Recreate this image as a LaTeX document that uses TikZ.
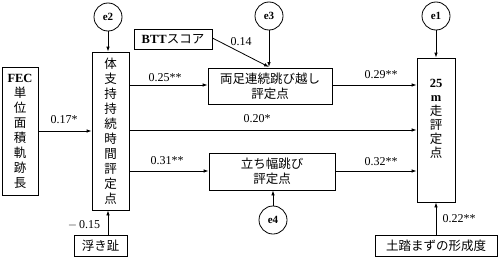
\documentclass[tikz,border=0pt]{standalone}
\usepackage{fontspec}
\setmainfont{Liberation Serif}
\newfontfamily\jp{Noto Sans CJK JP}
\usetikzlibrary{arrows.meta}

\newcommand{\lat}[1]{{\rmfamily\bfseries #1}}

\tikzset{
    box/.style={draw, line width=0.8pt, inner sep=0pt, align=center, font=\jp\fontsize{12.5}{15}\selectfont},
    err/.style={draw, circle, line width=0.8pt, minimum size=28pt, inner sep=0pt, font=\rmfamily\bfseries\fontsize{11}{13}\selectfont},
    coef/.style={font=\fontsize{12}{13}\selectfont},
    path/.style={-{Latex[length=5pt,width=3.5pt]}, line width=0.8pt}
}

\begin{document}
\begin{tikzpicture}[x=1pt, y=-1pt]
    \useasboundingbox (0,0) rectangle (500,257);

    % observed variables
    \node[box, minimum width=36pt, minimum height=128pt] (fec) at (20,131)
        {\lat{FEC}\\単\\位\\面\\積\\軌\\跡\\長};
    \node[box, minimum width=37pt, minimum height=158pt] (tai) at (110.5,131)
        {体\\支\\持\\持\\続\\時\\間\\評\\定\\点};
    \node[box, minimum width=78pt, minimum height=20pt] (btt) at (173,39.5)
        {\lat{BTT}スコア};
    \node[box, minimum width=124pt, minimum height=36pt] (ryo) at (270,86)
        {両足連続跳び越し\\評定点};
    \node[box, minimum width=126pt, minimum height=37pt] (tachi) at (272,171.5)
        {立ち幅跳び\\評定点};
    \node[box, minimum width=38pt, minimum height=144pt] (run) at (436,130) {};
    \node[align=center, inner sep=0pt, font=\jp\fontsize{12.5}{14}\selectfont] (runtxt) at (436,119)
        {\lat{25}\\\lat{m}\\走\\評\\定\\点};
    \node[box, minimum width=53pt, minimum height=21pt] (uki) at (100.5,245.5) {浮き趾};
    \node[box, minimum width=122pt, minimum height=21pt] (tsuchi) at (436,245.5) {土踏まずの形成度};

    % errors
    \node[err] (e2) at (108,17) {e2};
    \node[err] (e3) at (269,16) {e3};
    \node[err] (e1) at (436,16) {e1};
    \node[err] (e4) at (273,220) {e4};
    \coordinate (meet) at (269,67);

    % paths
    \draw[path] (fec.east |- 0,131) -- (tai.west |- 0,131);
    \draw[path] (tai.east |- 0,85) -- (ryo.west |- 0,85);
    \draw[path] (tai.east |- 0,130) -- (run.west |- 0,130);
    \draw[path] (tai.east |- 0,171) -- (tachi.west |- 0,171);
    \draw[path] (ryo.east |- 0,85) -- (run.west |- 0,85);
    \draw[path] (tachi.east |- 0,171) -- (run.west |- 0,171);
    \draw[path] (btt.east |- 0,38) -- (meet);
    \draw[path] (e3) -- (meet);
    \draw[path] (e2) -- (e2 |- tai.north);
    \draw[path] (e1) -- (run.north);
    \draw[path] (e4) -- (e4 |- tachi.south);
    \draw[path] (uki.north -| e2) -- (tai.south -| e2);
    \draw[path] (tsuchi.north) -- (run.south);

    % coefficients
    \node[coef] (c17) at (64,120) {0.17*};
    \node[coef] (c25) at (165,78) {0.25**};
    \node[coef] (c20) at (257,119) {0.20*};
    \node[coef] (c31) at (167,161) {0.31**};
    \node[coef] (c14) at (241,42) {0.14};
    \node[coef] (c29) at (381,75) {0.29**};
    \node[coef] (c32) at (381,162) {0.32**};
    \node[coef] (c15) at (84,225) {$-$\,0.15};
    \node[coef] (c22) at (459,219) {0.22**};
\end{tikzpicture}
\end{document}
